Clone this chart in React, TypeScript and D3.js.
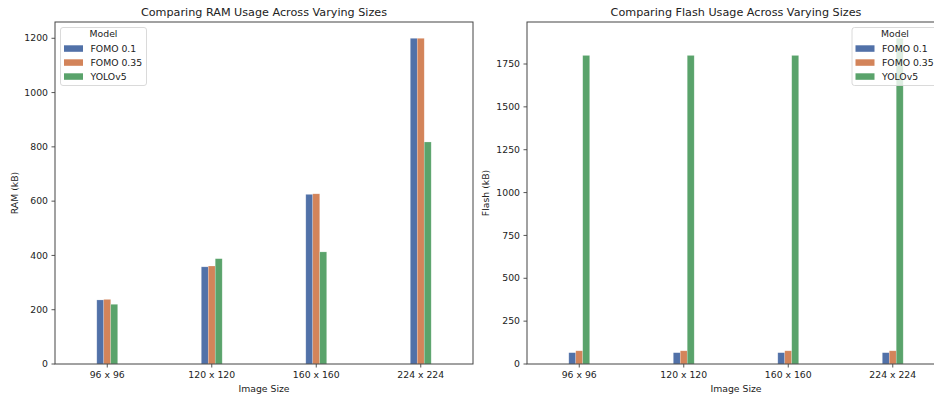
import React from "react";
import * as d3 from "d3";

// Image sizes shared by both panels
const categories = ["96 x 96", "120 x 120", "160 x 160", "224 x 224"];
const models = ["FOMO 0.1", "FOMO 0.35", "YOLOv5"];
const modelColors = ["#5171a8", "#d3845a", "#5aa36b"];

// RAM usage in kB, one array per model
const ramFomo01 = [236, 358, 625, 1200];
const ramFomo035 = [238, 361, 627, 1200];
const ramYolo = [220, 388, 413, 818];

// Flash usage in kB, one array per model
const flashFomo01 = [66, 66, 66, 66];
const flashFomo035 = [77, 77, 77, 77];
const flashYolo = [1800, 1800, 1800, 1900];

const ramTicks = [0, 200, 400, 600, 800, 1000, 1200];
const flashTicks = [0, 250, 500, 750, 1000, 1250, 1500, 1750];

const FONT = "DejaVu Sans, sans-serif";
const W = 934;
const H = 396;

type PanelProps = {
  title: string;
  yLabel: string;
  series: number[][];
  ticks: number[];
  x0: number;
  x1: number;
  yLabelX: number;
  legendX: number;
};

function Panel({ title, yLabel, series, ticks, x0, x1, yLabelX, legendX }: PanelProps) {
  const top = 22;
  const bottom = 364;
  const maxVal = d3.max(series.flat()) as number;
  const x = d3.scaleLinear().domain([-0.5, categories.length - 0.5]).range([x0, x1]);
  const y = d3.scaleLinear().domain([0, maxVal * 1.05]).range([bottom, top]);
  const barW = 0.2 / 3;
  const cx = (x0 + x1) / 2;

  const legendTop = 27.5;
  const legendW = 86;
  const legendH = 58;

  return (
    <g>
      <text x={cx} y={16} textAnchor="middle" fontSize={11.2} fill="#222" fontFamily={FONT}>
        {title}
      </text>
      {series.map((vals, si) =>
        vals.map((v, ci) => {
          const left = x(ci + (si - 1) * barW - barW / 2);
          const right = x(ci + (si - 1) * barW + barW / 2);
          return (
            <rect
              key={`${si}-${ci}`}
              x={left}
              y={y(v)}
              width={right - left}
              height={bottom - y(v)}
              fill={modelColors[si]}
              stroke="#ffffff"
              strokeOpacity={0.35}
              strokeWidth={0.6}
            />
          );
        })
      )}
      {/* axes frame */}
      <rect x={x0} y={top} width={x1 - x0} height={bottom - top} fill="none" stroke="#444" strokeWidth={1} />
      {ticks.map((t) => (
        <g key={t}>
          <line x1={x0 - 3.5} x2={x0} y1={y(t)} y2={y(t)} stroke="#444" strokeWidth={0.9} />
          <text
            x={x0 - 7}
            y={y(t)}
            dy="0.34em"
            textAnchor="end"
            fontSize={9.3}
            fill="#222"
            fontFamily={FONT}
          >
            {t}
          </text>
        </g>
      ))}
      {categories.map((c, ci) => (
        <g key={c}>
          <line x1={x(ci)} x2={x(ci)} y1={bottom} y2={bottom + 3.5} stroke="#444" strokeWidth={0.9} />
          <text x={x(ci)} y={377.5} textAnchor="middle" fontSize={9.3} fill="#222" fontFamily={FONT}>
            {c}
          </text>
        </g>
      ))}
      <text x={cx} y={391.5} textAnchor="middle" fontSize={9.3} fill="#222" fontFamily={FONT}>
        Image Size
      </text>
      <text
        transform={`translate(${yLabelX},${(top + bottom) / 2}) rotate(-90)`}
        textAnchor="middle"
        dy="0.34em"
        fontSize={9.3}
        fill="#222"
        fontFamily={FONT}
      >
        {yLabel}
      </text>
      {/* legend */}
      <g transform={`translate(${legendX},${legendTop})`}>
        <rect
          x={0}
          y={0}
          width={legendW}
          height={legendH}
          rx={2.5}
          fill="#ffffff"
          fillOpacity={0.8}
          stroke="#d6d6d6"
          strokeWidth={0.9}
        />
        <text x={legendW / 2} y={6.5} dy="0.34em" textAnchor="middle" fontSize={9.3} fill="#222" fontFamily={FONT}>
          Model
        </text>
        {models.map((m, i) => (
          <g key={m} transform={`translate(0,${21 + i * 14})`}>
            <rect x={3.5} y={-3.2} width={19} height={6.5} fill={modelColors[i]} />
            <text x={30} y={0} dy="0.34em" fontSize={9.3} fill="#222" fontFamily={FONT}>
              {m}
            </text>
          </g>
        ))}
      </g>
    </g>
  );
}

export default function App() {
  const ram = [ramFomo01, ramFomo035, ramYolo];
  const flash = [flashFomo01, flashFomo035, flashYolo];
  return (
    <div style={{ position: "fixed", left: 0, top: 0, width: W, height: H, background: "#fff" }}>
      <svg width={W} height={H} style={{ display: "block" }}>
        <rect x={0} y={0} width={W} height={H} fill="#fff" />
        <Panel
          title="Comparing RAM Usage Across Varying Sizes"
          yLabel="RAM (kB)"
          series={ram}
          ticks={ramTicks}
          x0={55}
          x1={473}
          yLabelX={15}
          legendX={60.5}
        />
        <Panel
          title="Comparing Flash Usage Across Varying Sizes"
          yLabel="Flash (kB)"
          series={flash}
          ticks={flashTicks}
          x0={527}
          x1={945}
          yLabelX={486}
          legendX={852}
        />
      </svg>
    </div>
  );
}
